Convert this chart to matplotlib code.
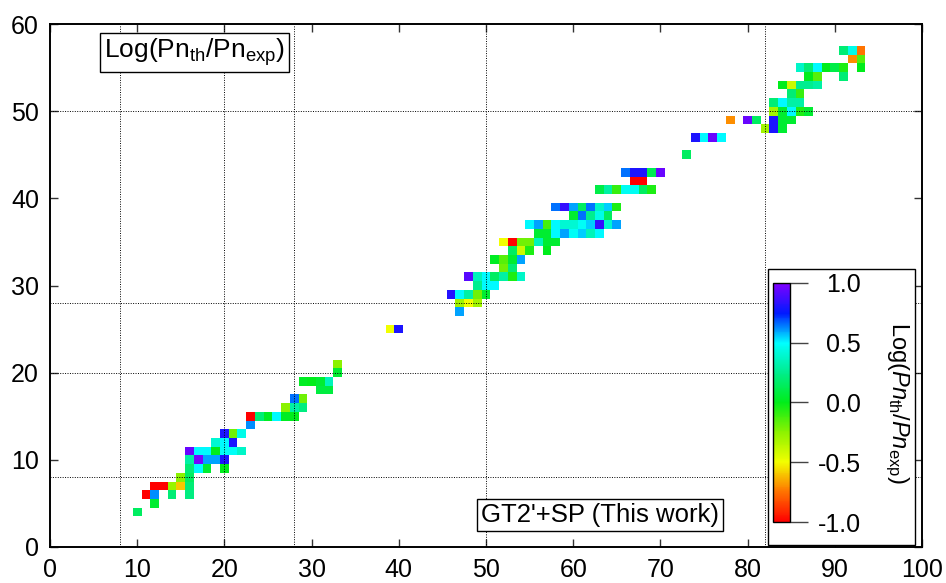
import numpy as np
import matplotlib
matplotlib.use("Agg")
import matplotlib.pyplot as plt
from matplotlib.colors import LinearSegmentedColormap
from matplotlib.patches import Rectangle

plt.rcParams['font.family'] = ['Liberation Sans', 'DejaVu Sans']
plt.rcParams['mathtext.fontset'] = 'custom'
plt.rcParams['mathtext.rm'] = 'Liberation Sans'
plt.rcParams['mathtext.it'] = 'Liberation Sans:italic'
plt.rcParams['axes.unicode_minus'] = False

# ---- data: neutron number, proton number, log(Pn_th/Pn_exp) ----
neutrons = [10, 12, 11, 12, 14, 16, 12, 13, 14, 15, 16, 15, 16, 16, 17, 18, 20,
            16, 17, 18, 19, 20, 16, 17, 18, 19, 20, 21, 22, 19, 20, 21, 20, 21, 22,
            23, 23, 24, 25, 26, 27, 28, 27, 28, 29, 28, 29, 29, 30, 31, 32, 31, 32, 33, 33,
            39, 40,
            47, 47, 48, 49, 46, 47, 48, 49, 50, 49, 50, 51, 48, 49, 50, 51, 52, 53, 54,
            52, 53, 51, 52, 53, 54, 53, 54, 55, 57, 52, 53, 54, 55, 56, 57, 58,
            56, 57, 58, 59, 60, 61, 62, 63,
            55, 56, 57, 58, 59, 60, 61, 62, 63, 64, 65,
            60, 61, 62, 63, 64, 58, 59, 60, 61, 62, 63, 64, 65,
            63, 64, 65, 66, 67, 68, 69, 67, 68, 66, 67, 68, 69, 70,
            73, 74, 75, 76, 77, 78, 80, 81, 82, 83, 83,
            83, 84, 85, 86, 87, 84, 85, 84, 83, 84, 85, 86, 85, 86,
            84, 85, 86, 87, 88, 87, 88, 91, 86, 87, 88, 89, 90, 91, 93,
            92, 93, 91, 92, 93]
protons = [4, 5, 6, 6, 6, 6, 7, 7, 7, 7, 7, 8, 8, 9, 9, 9, 9,
           10, 10, 10, 10, 10, 11, 11, 11, 11, 11, 11, 11, 12, 12, 12, 13, 13, 13,
           14, 15, 15, 15, 15, 15, 15, 16, 16, 16, 17, 17, 19, 19, 19, 19, 18, 18, 20, 21,
           25, 25,
           27, 28, 28, 28, 29, 29, 29, 29, 29, 30, 30, 30, 31, 31, 31, 31, 31, 31, 31,
           32, 32, 33, 33, 33, 33, 34, 34, 34, 34, 35, 35, 35, 35, 35, 35, 35,
           36, 36, 36, 36, 36, 36, 36, 36,
           37, 37, 37, 37, 37, 37, 37, 37, 37, 37, 37,
           38, 38, 38, 38, 38, 39, 39, 39, 39, 39, 39, 39, 39,
           41, 41, 41, 41, 41, 41, 41, 42, 42, 43, 43, 43, 43, 43,
           45, 47, 47, 47, 47, 49, 49, 49, 48, 48, 49,
           50, 50, 50, 50, 50, 49, 49, 48, 51, 51, 51, 51, 52, 52,
           53, 53, 53, 53, 53, 54, 54, 54, 55, 55, 55, 55, 55, 55, 55,
           56, 56, 57, 57, 57]
log_ratio = [0.15, 0.05, -1.0, 0.62, 0.2, 0.22, -1.0, -1.0, -0.28, -0.6, 0.2, -0.25, 0.15, 0.2, 0.5, 0.05, 0.0,
             0.3, 0.97, 0.6, 0.6, 0.8, 0.95, 0.5, 0.5, 0.0, 0.48, 0.48, 0.38, 0.4, 0.5, 0.8, 0.8, -0.2, 0.45,
             0.62, -1.0, 0.2, 0.02, 0.5, 0.02, 0.0, -0.25, 0.3, 0.22, 0.65, -0.2, 0.02, 0.0, 0.05, 0.35, 0.08, 0.08, 0.05, -0.25,
             -0.5, 0.8,
             0.6, -0.3, -0.5, -0.3, 0.82, 0.5, 0.3, -0.2, 0.05, 0.25, 0.5, 0.5, 0.92, 0.35, 0.5, 0.15, 0.3, -0.05, 0.38,
             -0.2, 0.2, 0.02, -0.15, 0.05, 0.6, 0.15, -0.4, -0.05, 0.0, -0.5, -1.0, -0.2, -0.2, 0.35, 0.05, 0.05,
             0.05, 0.05, 0.5, 0.6, 0.48, 0.55, 0.35, 0.5,
             0.5, 0.6, -0.12, 0.5, 0.4, 0.4, 0.48, 0.55, 0.85, 0.4, 0.6,
             0.05, 0.65, 0.25, 0.45, 0.15, 0.65, 0.85, 0.6, 0.15, 0.65, 0.38, 0.55, -0.05,
             0.1, 0.3, -0.1, 0.47, 0.47, 0.15, -0.05, -1.0, -1.0, 0.65, 0.8, 0.8, 0.12, 0.95,
             0.15, 0.8, 0.5, 0.95, 0.5, -0.7, 0.95, 0.15, -0.3, 0.8, 0.8,
             -0.3, 0.05, 0.5, -0.05, 0.05, 0.05, 0.05, 0.05, 0.2, 0.5, 0.3, 0.3, 0.2, -0.1,
             0.0, -0.4, 0.25, 0.25, 0.3, 0.0, -0.15, 0.2, 0.38, 0.2, 0.5, 0.0, 0.1, -0.05, 0.0,
             -0.7, -0.15, 0.2, 0.45, -0.75]
magic_numbers = [8, 20, 28, 50, 82]

# ---- build grid ----
grid = np.full((61, 101), np.nan)
for n, z, v in zip(neutrons, protons, log_ratio):
    grid[z, n] = v
grid = np.ma.masked_invalid(grid)

cmap = LinearSegmentedColormap.from_list('rb', [
    (0.0, (1.0, 0.0, 0.0)),
    (0.125, (1.0, 0.45, 0.0)),
    (0.25, (0.95, 1.0, 0.0)),
    (0.375, (0.55, 0.95, 0.0)),
    (0.5, (0.0, 0.93, 0.1)),
    (0.625, (0.0, 0.93, 0.55)),
    (0.75, (0.0, 1.0, 1.0)),
    (0.875, (0.0, 0.1, 1.0)),
    (1.0, (0.5, 0.0, 1.0)),
])

fig = plt.figure(figsize=(9.46, 5.83), dpi=100)
ax = fig.add_axes([50/946, 1-547/583, 872/946, 523/583])

xe = np.arange(-0.5, 101.5, 1)
ye = np.arange(-0.5, 61.5, 1)
mesh = ax.pcolormesh(xe, ye, grid, cmap=cmap, vmin=-1, vmax=1, zorder=2)

for m in magic_numbers:
    ax.axvline(m, color='black', lw=0.7, ls=(0, (1, 1.5)), zorder=3)
    if m <= 60:
        ax.axhline(m, color='black', lw=0.7, ls=(0, (1, 1.5)), zorder=3)

ax.set_xlim(0, 100)
ax.set_ylim(0, 60)
ax.set_xticks(np.arange(0, 101, 10))
ax.set_yticks(np.arange(0, 61, 10))
ax.tick_params(direction='in', length=6, width=1, color='#333333', top=True, right=True,
               labelsize=18, pad=8)
for s in ax.spines.values():
    s.set_linewidth(1.4)

ax.text(0.166, 0.9455, r'Log(Pn$_{\rm th}$/Pn$_{\rm exp}$)', transform=ax.transAxes,
        ha='center', va='center', fontsize=19, zorder=6,
        bbox=dict(boxstyle='square,pad=0.15', fc='white', ec='black', lw=1))
ax.text(0.6307, 0.0612, "GT2'+SP (This work)", transform=ax.transAxes,
        ha='center', va='center', fontsize=18.5, zorder=6,
        bbox=dict(boxstyle='square,pad=0.15', fc='white', ec='black', lw=1))

# white box behind colorbar
ax.add_patch(Rectangle((0.823, 0.004), 0.169, 0.5275, transform=ax.transAxes,
                       fc='white', ec='black', lw=1, zorder=7))

cax = fig.add_axes([773/946, 1-522/583, 17/946, 239/583])
cb = fig.colorbar(mesh, cax=cax, ticks=[-1, -0.5, 0, 0.5, 1], format='%.1f')
cb.outline.set_linewidth(1)
cax.tick_params(direction='out', length=13, width=1, color='#444444', labelsize=18, pad=38)
for t in cax.get_yticklabels():
    t.set_horizontalalignment('right')
cb.set_label(r'Log($\mathit{Pn}_{\rm th}$/$\mathit{Pn}_{\rm exp}$)', rotation=270,
             fontsize=17, labelpad=36)

fig.savefig('out.png', dpi=100)
